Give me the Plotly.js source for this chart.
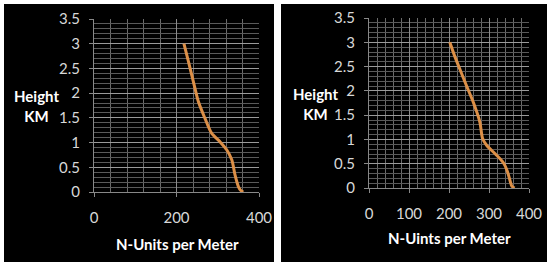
<!DOCTYPE html>
<html>
<head>
<meta charset="utf-8">
<script src="https://cdn.plot.ly/plotly-3.0.1.min.js"></script>
<style>
  html, body { margin: 0; padding: 0; background: #fff; }
  #chart { width: 550px; height: 266px; }
</style>
</head>
<body>
<div id="chart"></div>
<script>
// left panel profile
const leftN = [218, 229, 241, 253, 269, 285, 305, 322, 334, 342, 350, 356, 362];
const leftH = [3.0, 2.64, 2.23, 1.83, 1.49, 1.19, 1.02, 0.85, 0.65, 0.34, 0.11, 0.03, 0];

// right panel profile
const rightN = [202, 214, 227, 244, 261, 277, 284, 294, 316, 336, 346, 353, 357, 364];
const rightH = [3.0, 2.72, 2.45, 2.1, 1.76, 1.36, 1.02, 0.88, 0.7, 0.52, 0.34, 0.14, 0.04, 0];

const yTicks = [0, 0.5, 1, 1.5, 2, 2.5, 3, 3.5];
const leftXTicks = [0, 200, 400];
const rightXTicks = [0, 100, 200, 300, 400];

const lineColor = '#dc8f47';
const tickFont = { family: 'Lato, sans-serif', size: 15, color: '#d8d8d8' };
const titleFont = { family: 'Lato, sans-serif', size: 15, color: '#ffffff', weight: 'bold' };

const traceLeft = {
  x: leftN, y: leftH, xaxis: 'x', yaxis: 'y',
  mode: 'lines', type: 'scatter',
  line: { color: lineColor, width: 3, shape: 'spline', smoothing: 0.8 },
  hoverinfo: 'skip'
};

const traceRight = {
  x: rightN, y: rightH, xaxis: 'x2', yaxis: 'y2',
  mode: 'lines', type: 'scatter',
  line: { color: lineColor, width: 3, shape: 'spline', smoothing: 0.8 },
  hoverinfo: 'skip'
};

function xAxis(domain, ticks, minorStep) {
  return {
    domain: domain, range: [0, 400], fixedrange: true,
    tickmode: 'array', tickvals: ticks,
    tickfont: tickFont, ticks: 'outside', ticklen: 4, tickcolor: '#888',
    ticklabelstandoff: 8,
    showline: true, linecolor: '#888', linewidth: 1,
    showgrid: true, gridcolor: '#8a8a8a', gridwidth: 1,
    minor: { dtick: minorStep, showgrid: true, gridcolor: '#6a6a6a', gridwidth: 1 },
    zeroline: false
  };
}

function yAxis(domain, anchor) {
  return {
    domain: domain, anchor: anchor, range: [0, 3.5], fixedrange: true,
    tickmode: 'array', tickvals: yTicks,
    tickfont: tickFont, ticks: 'outside', ticklen: 4, tickcolor: '#888',
    ticklabelstandoff: 6,
    showline: true, linecolor: '#888', linewidth: 1,
    showgrid: true, gridcolor: '#9a9a9a', gridwidth: 1,
    minor: { dtick: 0.1, showgrid: true, gridcolor: '#5a5a5a', gridwidth: 1 },
    zeroline: false
  };
}

function label(text, px, py) {
  return {
    text: text, xref: 'paper', yref: 'paper', x: px / 550, y: (266 - py) / 266,
    xanchor: 'center', yanchor: 'middle', showarrow: false, font: titleFont, align: 'center'
  };
}

const layout = {
  width: 550, height: 266,
  margin: { l: 0, r: 0, t: 0, b: 0 },
  paper_bgcolor: '#ffffff',
  plot_bgcolor: '#000000',
  showlegend: false,
  xaxis: { ...xAxis([94 / 550, 259 / 550], leftXTicks, 40), anchor: 'y' },
  yaxis: yAxis([74 / 266, 247 / 266], 'x'),
  xaxis2: { ...xAxis([369 / 550, 529 / 550], rightXTicks, 20), anchor: 'y2' },
  yaxis2: yAxis([78 / 266, 248 / 266], 'x2'),
  shapes: [
    { type: 'rect', xref: 'paper', yref: 'paper', x0: 4 / 550, x1: 274 / 550, y0: 4 / 266, y1: 262 / 266,
      fillcolor: '#000', line: { width: 0 }, layer: 'below' },
    { type: 'rect', xref: 'paper', yref: 'paper', x0: 281 / 550, x1: 547 / 550, y0: 4 / 266, y1: 262 / 266,
      fillcolor: '#000', line: { width: 0 }, layer: 'below' }
  ],
  annotations: [
    label('Height<br>KM', 36, 106),
    label('N-Units per Meter', 177, 244),
    label('Height<br>KM', 315, 104),
    label('N-Uints per Meter', 449, 238)
  ]
};

Plotly.newPlot('chart', [traceLeft, traceRight], layout, { displayModeBar: false, staticPlot: true });
</script>
</body>
</html>
